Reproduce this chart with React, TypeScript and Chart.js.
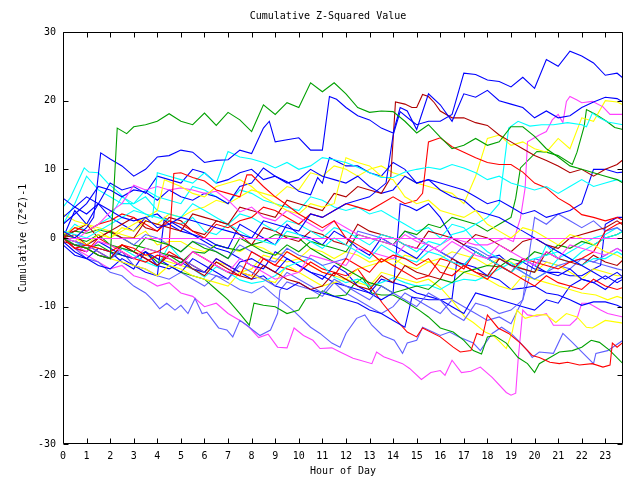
import React, { useEffect, useRef } from "react";
import { Chart, registerables } from "chart.js";

Chart.register(...registerables);

type Pt = [number, number];

const TITLE = "Cumulative Z-Squared Value";
const X_TITLE = "Hour of Day";
const Y_TITLE = "Cumulative (Z*Z)-1";
const HOUR_TICKS = [0, 1, 2, 3, 4, 5, 6, 7, 8, 9, 10, 11, 12, 13, 14, 15, 16, 17, 18, 19, 20, 21, 22, 23];
const Y_TICKS = [-30, -20, -10, 0, 10, 20, 30];
const ZERO_LINE: Pt[] = [[0, 0], [23.75, 0]];

const BLUE = "#0000ff";
const PERI = "#6060ff";
const RED = "#ff0000";
const DRED = "#b00000";
const GREEN = "#00a000";
const CYAN = "#00ffff";
const MAG = "#ff40ff";
const YEL = "#ffff00";

const G1: Pt[] = [[0,0],[0.5,-1],[1,-1.5],[1.5,-2.5],[2,-3],[2.3,16],[2.7,15.2],[3,16.2],[3.5,16.5],[4,17],[4.5,18.1],[5,17],[5.5,16.5],[6,18.2],[6.5,16.4],[7,18.3],[7.5,17.2],[8,15.5],[8.5,19.4],[9,18],[9.5,19.7],[10,19],[10.5,22.6],[11,21.3],[11.5,22.6],[12,21],[12.5,19],[13,18.3],[13.5,18.5],[14,18.4],[14.5,17],[15,15.3],[15.5,16.5],[16,14.7],[16.5,13],[17,13.5],[17.5,14.5],[18,13.5],[18.5,14],[19,16.2],[19.5,16.2],[20,14.8],[20.5,13],[21,11.8],[21.5,10.5],[22,10],[22.5,9.5],[23,9],[23.5,8.5],[23.75,8]];
const BA: Pt[] = [[0,1],[0.5,0],[1,1.5],[1.3,3],[1.6,12.4],[2,11.5],[2.5,10.5],[3,9],[3.5,10],[4,11.8],[4.5,12],[5,12.8],[5.5,12.5],[6,11],[6.5,11.3],[7,11.4],[7.5,12.8],[8,12.3],[8.5,16],[8.75,17],[9,14],[9.5,14.3],[10,14.6],[10.5,12.8],[11,12.8],[11.3,20.6],[11.6,20.2],[12,19],[12.5,17.8],[13,17.2],[13.5,16],[14,15.3],[14.3,19],[14.6,18.5],[15,15.8],[15.5,21],[16,19.4],[16.5,17],[17,21],[17.5,20.5],[18,21.5],[18.5,20],[19,19.5],[19.5,19],[20,17.5],[20.5,18.5],[21,17.5],[21.5,17.8],[22,19],[22.5,19.8],[23,20.5],[23.5,20.3],[23.75,19.8]];
const BB: Pt[] = [[0,5.8],[0.5,4.5],[1,3.5],[1.5,5],[2,4],[2.5,3],[3,2.5],[3.5,3],[4,1.5],[4.5,2],[5,3],[5.5,2.5],[6,2],[6.5,1.5],[7,1],[7.5,0.5],[8,0],[8.5,2.5],[9,2],[9.5,1.5],[10,1],[10.5,3.5],[11,3],[11.5,4],[12,5],[12.5,5.5],[13,6],[13.7,8],[14,15],[14.3,18.4],[14.8,17],[15,16.5],[15.5,17],[16,17],[16.5,18],[17,24],[17.5,23.8],[18,23],[18.5,22.8],[19,22],[19.5,23.4],[20,21.8],[20.5,26],[21,25],[21.5,27.2],[22,26.5],[22.5,25.5],[23,23.7],[23.5,24],[23.75,23.3]];
const BC: Pt[] = [[0,2],[0.5,3.5],[1,5],[1.5,7.5],[2,7],[2.5,6],[3,7],[3.5,6.7],[4,5.5],[4.5,7],[5,6],[5.5,5.5],[6,6.5],[6.5,6],[7,5],[7.5,7.5],[8,8],[8.5,10.2],[9,9],[9.5,8.2],[10,6.8],[10.5,6.3],[10.8,8.8],[11,8],[11.3,11.7],[12,10.5],[12.5,10.5],[13,9.5],[13.5,9],[14,11],[14.5,10],[15,8],[15.5,8.5],[16,7],[16.5,6],[17,5.5],[17.5,4],[18,3.5],[18.5,3],[19,2],[19.5,1],[20,0],[20.5,-1],[21,-2],[21.5,-3],[22,-4],[22.5,-5],[23,-6],[23.5,-5],[23.75,-5.7]];
const BD: Pt[] = [[0,3],[0.5,4.5],[1,6],[1.5,5],[2,8],[2.5,7],[3,7.5],[3.5,6.5],[4,9],[4.5,8.5],[5,8],[5.5,10],[6,9.5],[6.5,8],[7,8.5],[7.5,9.5],[8,10],[8.5,8.5],[9,9],[9.5,8],[10,8.5],[10.5,10],[11,9],[11.5,8.5],[12,8],[12.5,9],[13,7.5],[13.5,6.5],[14,7],[14.5,9],[15,8],[15.5,8.5],[16,8],[16.5,7.5],[17,7],[17.5,6],[18,5],[18.5,5.5],[19,4.5],[19.5,3.5],[20,4],[20.5,3],[21,3.5],[21.5,4],[22,5],[22.5,10],[23,10],[23.5,9.5],[23.75,9.6]];
const BE: Pt[] = [[0,0],[0.5,-1.5],[1,-2],[1.5,-0.5],[2,-1.5],[2.5,-2.5],[3,-3],[3.5,-2],[4,-4],[4.5,-4.5],[5,-3.5],[5.5,-4.5],[6,-5],[6.5,-3],[7,-4],[7.5,-5],[8,-6],[8.5,-5.5],[9,-7],[9.5,-7.5],[10,-6.5],[10.5,-7.5],[11,-8],[11.5,-8.5],[12,-9],[12.5,-9.5],[13,-10.5],[13.5,-11],[14,-12],[14.5,-13],[14.8,-8.6],[15.5,-9],[16,-9],[16.5,-8.8],[16.7,-3.5],[17.5,-4.3],[18,-5.5],[18.5,-6.1],[19,-7.5],[19.5,-7.3],[20,-7],[20.5,-8],[21,-8.3],[21.5,-9],[22,-9.8],[22.5,-9.3],[23,-9.3],[23.5,-9.8],[23.75,-10.2]];
const BF: Pt[] = [[0,-1],[0.5,-2.5],[1,-3],[1.5,-1.5],[2,-2],[2.5,-3.5],[3,-4.5],[3.5,-2],[4,-3],[4.5,-4],[5,-5],[5.5,-3],[6,-4],[6.5,-5],[7,-6],[7.5,-3.5],[8,-3],[8.5,-4],[9,-5],[9.5,-3],[10,-4],[10.5,-5],[11,-6],[11.5,-4],[12,-5],[12.5,-7],[13,-8],[13.5,-9],[14,-8],[14.3,5],[14.7,4.5],[15,4],[15.5,5],[16,3],[16.5,0],[17,-1],[17.5,-2],[18,-3],[18.5,-2.5],[19,-4],[19.5,-3.5],[20,-4.5],[20.5,-5],[21,-5],[21.5,-5.5],[22,-5.5],[22.5,-4.5],[22.8,-4],[23,2],[23.5,3],[23.75,3]];
const BG: Pt[] = [[0,0],[0.5,4],[1,2],[1.5,5],[2,3],[2.5,2],[3,1],[3.5,3],[4,3.5],[4.5,2],[5,1],[5.5,0.5],[6,0],[6.5,-1],[7,-1.5],[7.5,2],[8,1],[8.5,0],[9,-1],[9.5,2],[10,0.5],[10.5,0],[11,-1],[11.5,1],[12,0],[12.5,-1.5],[13,-2.5],[13.5,0],[14,-1],[14.5,-2],[15,-3],[15.5,-1],[16,-2],[16.5,-3],[17,-4],[17.5,-2],[18,-3],[18.5,-4],[19,-5],[19.5,-3],[20,-4],[20.5,-5],[21,-5.5],[21.5,-4.5],[22,-6],[22.5,-6.5],[23,-5.5],[23.5,-6.5],[23.75,-6]];
const BH: Pt[] = [[0,-0.5],[0.5,-2],[1,-3],[1.5,-4],[2,-4.5],[2.5,-3],[3,-4],[3.5,-5],[4,-5.5],[4.3,3],[4.5,2.5],[5,1.5],[5.5,0.5],[6,-0.5],[6.5,-1.5],[7,-2],[7.5,-3],[8,-4],[8.5,-4.5],[9,-2],[9.5,-3],[10,-4],[10.5,-5],[11,-5.5],[11.5,-6.5],[12,-7],[12.5,-7.5],[13,-8],[13.5,-6],[14,-6.5],[14.5,-7],[15,-8],[15.5,-8.5],[16,-9],[16.5,-10],[17,-11],[17.5,-8],[18,-8.5],[18.5,-9],[19,-9.5],[19.5,-10],[20,-10.5],[20.5,-9],[21,-9.5],[21.5,-7],[22,-6],[22.5,-6.5],[23,-7.5],[23.5,-6],[23.75,-5.7]];
const P1: Pt[] = [[0,0],[0.5,-1.5],[1,-3],[1.5,-3.5],[2,-5],[2.5,-5.5],[3,-7],[3.5,-8],[3.8,-9],[4.1,-10.3],[4.4,-9.5],[4.75,-10.5],[5,-9.8],[5.3,-11],[5.6,-8.8],[5.9,-11],[6.1,-10.8],[6.6,-13.1],[6.95,-13.4],[7.2,-14.4],[7.5,-12],[7.8,-12.7],[8.05,-13.4],[8.35,-14.2],[8.8,-13.4],[9.1,-11],[9.2,-7.6],[9.5,-6.4],[10,-7],[10.5,-7.5],[11,-8.5],[11.5,-6.5],[12,-8],[12.5,-9],[13,-10],[13.5,-11],[14,-10],[14.5,-8],[15,-9],[15.5,-10],[16,-11],[16.5,-9],[17,-10],[17.5,-11],[18,-12],[18.5,-11.5],[19,-12.5],[19.5,-9],[20,-3],[20.5,-3.5],[21,-4],[21.5,-4.5],[22,-3],[22.5,-3.5],[23,-4],[23.5,-4.5],[23.75,-4.7]];
const P2: Pt[] = [[0,0],[0.5,-1],[1,-1.5],[1.5,-2.5],[2,-3],[2.5,-2],[3,-4],[3.5,-4.5],[4,-5.5],[4.5,-6],[5,-5],[5.5,-6],[6,-7],[6.5,-5.5],[7,-6.5],[7.5,-7.5],[8,-8],[8.5,-7],[9,-8.5],[9.75,-10.5],[10.5,-13],[10.9,-13.9],[11.4,-15.3],[11.75,-15.9],[12,-13.9],[12.45,-11.7],[12.8,-11.2],[13.1,-12.7],[13.55,-14.2],[14.05,-14.9],[14.4,-16.8],[14.6,-15.3],[15,-14.9],[15.25,-13],[16,-14.2],[16.4,-13.7],[16.8,-14.4],[17.4,-15.3],[17.7,-16.4],[18.2,-13.9],[18.6,-13],[19,-13.9],[19.3,-14.9],[19.7,-16.4],[19.9,-17.4],[20.2,-16.6],[20.8,-16.8],[21.2,-13.9],[21.6,-15.2],[22,-16.6],[22.5,-18.3],[22.6,-16.8],[23.1,-16.4],[23.75,-14.9]];
const P3: Pt[] = [[0,0],[0.5,-1],[1,-1],[1.5,0],[2,1],[2.5,0],[3,-1],[3.5,0.5],[4,0],[4.5,-1],[5,-2],[5.5,-0.5],[6,-1],[6.5,-2],[7,-3],[7.5,-1],[8,-2],[8.5,-3],[9,-3.5],[9.5,-1.5],[10,-2.5],[10.5,-3],[11,-4],[11.5,-3.5],[12,-3],[12.5,1],[13,0.5],[13.5,0],[14,-1],[14.5,1],[15,0],[15.5,-1],[16,-2],[16.5,-3],[17,-1],[17.5,-1.5],[18,-2.5],[18.5,-3],[19,-4],[19.5,-5],[20,-6],[20.5,-5],[21,-4],[21.5,-3.5],[22,-3],[22.5,-3.5],[23,-2.5],[23.5,-1.5],[23.75,-2]];
const P4: Pt[] = [[0,0],[0.5,-0.5],[1,-1],[1.5,-2],[2,-3],[2.5,-1.5],[3,-2],[3.5,-3],[4,-4],[4.5,-2.5],[5,-3],[5.5,-4],[6,-5],[6.5,-5.5],[7,-6],[7.5,-4],[8,-5],[8.5,-6],[9,-7],[9.5,-5],[10,-6],[10.5,-7],[11,-8],[11.5,-6],[12,-7],[12.5,-8],[13,-9],[13.5,-7],[14,-8],[14.5,-9],[15,-10],[15.5,-8],[16,-9],[16.5,-11],[17,-12],[17.5,-9.5],[18,-10],[18.5,-11],[19,-10.5],[19.5,-9],[19.7,-4],[20,3],[20.5,2],[21,3.5],[21.5,2.5],[22,1.5],[22.5,2.5],[23,1],[23.5,1.5],[23.75,0.9]];
const M1: Pt[] = [[0,0],[0.5,-1.5],[1,-2.5],[1.5,-3.5],[2,-4.5],[2.5,-4],[3,-5.5],[3.5,-6],[4,-7],[4.5,-6.5],[5,-8],[5.5,-8.5],[6,-10],[6.5,-9.5],[7,-11],[7.5,-12],[7.9,-13],[8.3,-14.5],[8.7,-14],[9.1,-15.9],[9.5,-16],[9.8,-13.1],[10.2,-14.2],[10.6,-14.9],[10.9,-16.1],[11.4,-16],[11.75,-16.6],[12.3,-17.5],[12.6,-17.8],[13.1,-18.3],[13.3,-16.6],[13.6,-17.3],[14.4,-18.3],[14.7,-19],[15.2,-20.6],[15.6,-19.6],[16,-19.3],[16.2,-20],[16.5,-17.8],[16.9,-19.6],[17.3,-19.4],[17.7,-18.8],[18.2,-20.3],[18.8,-22.5],[19,-22.9],[19.2,-22.6],[19.3,-17.8],[19.5,-10.5],[19.7,-11.2],[20.1,-11.4],[20.5,-11],[20.8,-12.7],[21.5,-12.7],[21.8,-11.7],[22,-9.5],[22.3,-9.5],[22.8,-10.5],[23.1,-11],[23.75,-11.5]];
const M2: Pt[] = [[0,0],[0.5,-1],[1,-2],[1.5,-0.5],[2,-1],[2.5,-2],[3,-3],[3.5,-1.5],[4,-2],[4.5,-3],[5,-4],[5.5,-2],[6,-3],[6.5,-4],[7,-5],[7.5,-3],[8,-4],[8.5,-5],[9,-6],[9.5,-5.5],[10,-5],[10.5,-2.5],[11,-3],[11.5,-3.5],[12,-4],[12.5,-1.5],[13,-2],[13.5,-2.5],[14,-3],[14.5,-1],[15,-1.5],[15.5,-2],[16,-1],[16.5,0],[17,-0.5],[17.5,-1],[18,-1],[18.75,0],[19.1,-0.5],[19.4,2.9],[19.6,7.3],[19.7,14],[20.2,15],[20.5,15.5],[20.75,17.2],[21,18],[21.2,16.8],[21.35,19.9],[21.5,20.6],[21.8,20.1],[22,19.7],[22.45,19.9],[22.9,19.1],[23.2,18],[23.75,18]];
const M3: Pt[] = [[0,0],[0.5,-0.5],[1,1],[1.5,2],[2,3.8],[2.5,5],[3,7.7],[3.5,7],[4,7.5],[4.5,7],[5,7.3],[5.5,7],[6,6.5],[6.5,6.8],[7,5.5],[7.5,3.8],[8,4.5],[8.5,3],[9,2.5],[9.5,4],[10,3],[10.5,2],[11,1],[11.5,2.5],[12,1.5],[12.5,0.5],[13,0],[13.5,-0.5],[14,-1],[14.5,0.5],[15,-0.5],[15.5,-1],[16,-2],[16.5,-0.5],[17,-1.5],[17.5,-2.5],[18,-3],[18.5,-1],[19,-2],[19.5,-3],[20,-4],[20.5,-2],[21,-3],[21.5,-1],[22,-1.5],[22.5,-2],[23,-2.5],[23.5,-1.5],[23.75,-2]];
const R1: Pt[] = [[0,0],[0.5,-0.5],[1,-1],[1.5,-2],[2,-3],[2.5,-1],[3,-2],[3.5,-3],[4,-4],[4.5,-2],[5,-3],[5.5,-4],[6,-5],[6.5,-3],[7,-4],[7.5,-5],[8,-5.5],[8.5,-3],[9,-4],[9.5,-4.5],[10,-5],[10.5,-3.5],[11,-4.5],[11.5,-5],[12,-5.5],[12.5,-4.5],[12.9,-6.4],[13.55,-9.5],[14.15,-12],[14.6,-13.7],[15,-14.4],[15.25,-13.1],[16,-14.4],[16.55,-15.9],[16.85,-16.6],[17.3,-16.4],[17.55,-13.9],[17.8,-14.2],[18,-11.2],[18.45,-13.1],[18.9,-13.9],[19.4,-15.3],[19.9,-17.1],[20.2,-17.4],[20.65,-18.1],[21.05,-18.3],[21.4,-18.1],[21.9,-18.5],[22.45,-18.3],[22.9,-18.8],[23.2,-18.5],[23.3,-15.3],[23.5,-15.9],[23.75,-15.2]];
const R2: Pt[] = [[0,0],[0.5,-1.5],[1,-1],[1.5,-1.5],[2,-2],[2.5,-1],[3,-1.5],[3.5,-2.5],[4,-2],[4.5,-1],[4.7,9.4],[5,9.5],[5.5,8.8],[6,8.3],[6.5,7],[7,6.5],[7.5,6],[7.8,9.2],[8,9.2],[8.5,7.5],[9,6],[9.5,4.8],[10,3.5],[10.5,2.5],[11,1.5],[11.5,2.5],[12,0],[12.5,-1],[13,-2],[13.5,-3.5],[14,-2.5],[14.5,-3],[15,-4],[15.5,-3],[16,-5],[16.5,-5.5],[17,-4],[17.5,-5],[18,-6],[18.5,-4],[19,-5],[19.5,-6],[20,-7],[20.5,-5.5],[21,-6.5],[21.5,-7],[22,-7.5],[22.5,-6],[23,-7],[23.5,-7.5],[23.75,-7.2]];
const R3: Pt[] = [[0,0],[0.5,-1.5],[1,-2],[1.5,0],[2,-1],[2.5,-2],[3,-3],[3.5,-3.5],[4,-2.5],[4.5,-3],[5,-4],[5.5,-2],[6,-3],[6.5,-4],[7,-5],[7.5,-5.5],[8,-2],[8.5,-3],[9,-4],[9.5,-2],[10,-3],[10.5,-4],[11,-5],[11.5,-5.5],[12,-3],[12.5,-4],[13,-5],[13.5,-3],[14,-4],[14.5,-5],[15,-6],[15.5,-5.5],[16,-3],[16.5,-3.5],[17,-4.5],[17.5,-2],[18,-3],[18.5,-4],[19,-5],[19.5,-3],[20,-3.5],[20.5,-4],[21,-4.5],[21.5,-3.5],[22,-3],[22.5,-2],[23,1],[23.5,2],[23.75,2.3]];
const R4: Pt[] = [[0,0.5],[0.5,1],[1,2],[1.5,0],[2,1],[2.5,2],[3,3],[3.5,1.5],[4,1],[4.5,3],[5,2.5],[5.5,1],[6,0.5],[6.5,2.5],[7,2],[7.5,0.5],[8,-1],[8.5,1.5],[9,1],[9.5,0],[10,-0.5],[10.5,1],[11,0.5],[11.5,-0.5],[12,-1],[12.5,2],[13,1],[13.5,0.5],[14,0],[14.5,-1],[15,-1.5],[15.5,1],[16,0.5],[16.5,0],[17,-1],[17.5,0.5],[18,0],[18.5,-1],[19,-2],[19.5,-0.5],[20,0],[20.5,-1],[21,-1.5],[21.5,0],[22,0.5],[22.5,1],[23,1.5],[23.5,2.5],[23.75,1.9]];
const DR1: Pt[] = [[0,0],[0.5,0.5],[1,-1],[1.5,0],[2,1],[2.5,0],[3,0],[3.5,2.5],[4,2],[4.5,1.5],[5,1],[5.5,3.5],[6,3],[6.5,2.5],[7,2],[7.5,4.5],[8,4],[8.5,3.5],[9,3],[9.5,5.5],[10,5],[10.5,4.5],[11,4],[11.5,6.5],[12,6],[12.5,7.5],[13,7],[13.5,6.5],[13.9,8.8],[14.1,19.8],[14.5,19.5],[14.8,19],[15,19],[15.25,20.9],[15.5,20.6],[15.75,19.7],[16,18.5],[16.5,17.5],[17,17.5],[17.5,16.8],[18,16.4],[18.5,15],[19,14],[19.5,13],[20,12],[20.5,11.3],[21,10.5],[21.5,9.5],[22,10],[22.5,9],[23,10],[23.5,10.7],[23.75,11.4]];
const DR2: Pt[] = [[0,0],[0.5,1.5],[1,1],[1.5,2],[2,2.5],[2.5,3.5],[3,3],[3.5,2],[4,1],[4.5,2.5],[5,2],[5.5,1],[6,0],[6.5,2],[7,1.5],[7.5,2.5],[8,3],[8.5,4.5],[9,4],[9.5,3],[10,2],[10.5,3.5],[11,3],[11.5,4],[12,5],[12.5,4.5],[13,4],[13.5,5],[14,6],[14.5,5],[15,5.5],[15.25,6.5],[15.5,14],[16,14.6],[16.5,13.3],[17,12.5],[17.5,11.7],[18,11],[18.5,10.7],[19,10.7],[19.5,9.6],[20,8],[20.5,7.3],[21,5.8],[21.5,4.8],[22,3.4],[22.5,3],[23,2.5],[23.5,3],[23.75,2.6]];
const DR3: Pt[] = [[0,-0.5],[0.5,-1],[1,-1.5],[1.5,-2.5],[2,-3],[2.5,-1],[3,-2],[3.5,-3],[4,-4],[4.5,-2.5],[5,-3],[5.5,-4.5],[6,-5.5],[6.5,-3.5],[7,-4.5],[7.5,-5.5],[8,-6],[8.5,-4],[9,-5],[9.5,-6],[10,-6.5],[10.5,-7.5],[11,-7],[11.5,-5],[12,-6],[12.5,-7],[13,-7.5],[13.5,-5.5],[14,-6.5],[14.5,-4],[15,-5],[15.5,-5.5],[16,-6],[16.5,-3],[17,-4],[17.5,-5],[18,-5.5],[18.5,-3],[19,-4],[19.5,-4.5],[20,-5],[20.5,-2],[21,-3],[21.5,-3.5],[22,-4],[22.5,-2.5],[23,-3.5],[23.5,-4],[23.75,-3.2]];
const G2: Pt[] = [[0,0],[0.5,-1],[1,-1.5],[1.5,-1],[2,-2],[2.5,-2.5],[3,-3],[3.5,-2],[4,-3.5],[4.5,-4],[5,-5],[5.5,-5.5],[6,-6],[6.5,-7.5],[7,-9],[7.5,-11],[7.9,-12.7],[8.1,-9.5],[8.5,-9.8],[9,-10],[9.5,-11],[10,-10.5],[10.3,-8.8],[10.8,-8.7],[11,-7.7],[11.5,-8.5],[12,-8.3],[12.3,-6.9],[12.7,-5.8],[13.1,-8],[13.5,-8.3],[14,-8.3],[14.5,-9.2],[15.1,-10.5],[15.5,-11.5],[16,-13.1],[16.55,-13.7],[17,-14.9],[17.4,-16.4],[17.75,-16.9],[18,-14.4],[18.3,-14.2],[18.8,-15.3],[19.3,-17.4],[19.7,-18.3],[20,-19.6],[20.2,-18.3],[20.6,-17.5],[21.05,-16.6],[21.6,-16.4],[22,-15.9],[22.4,-14.9],[22.75,-15.2],[23.2,-16.4],[23.75,-18.3]];
const G3: Pt[] = [[0,0.5],[0.5,0],[1,-0.5],[1.5,0.5],[2,-1],[2.5,-1.5],[3,-2],[3.5,0],[4,-0.5],[4.5,-1],[5,-2],[5.5,-0.5],[6,-1.5],[6.5,-2],[7,-3],[7.5,0],[8,-1],[8.5,-2],[9,-2.5],[9.5,-1],[10,-2],[10.5,-0.5],[11,-1],[11.5,-1.5],[12,-2],[12.5,0.5],[13,0],[13.5,-0.5],[14,-1],[14.5,1],[15,0.5],[15.5,2],[16,1.5],[16.5,3],[17,2.5],[17.5,2],[18,1],[18.5,2],[19,3],[19.2,5.8],[19.4,10.2],[20.1,12.6],[20.5,12.5],[21,12],[21.6,10.7],[21.8,12.5],[22.1,16.2],[22.2,18.7],[22.6,18],[23.05,17],[23.4,16.1],[23.75,15.8]];
const G4: Pt[] = [[0,0],[0.5,1],[1,0.7],[1.5,1.2],[2,0.8],[2.5,0],[3,-1],[3.5,-1.5],[4,-2],[4.5,-2.5],[5,-3.6],[5.5,-2],[6,-2.2],[6.5,-1],[7,-1.5],[7.5,-1.8],[8,-1],[8.5,-0.5],[9,0.5],[9.5,0.3],[10,0],[10.5,-1.5],[11,-2.5],[11.5,-3.5],[12,-4.5],[12.5,-5.5],[13,-6.5],[13.5,-7],[14,-8],[14.5,-7.5],[15,-7],[15.5,-7.5],[16,-6],[16.5,-6.5],[17,-5],[17.5,-4.5],[18,-4],[18.5,-4.2],[19,-3],[19.5,-3.5],[20,-2],[20.5,-2.5],[21,-1],[21.5,-1.5],[22,-0.5],[22.5,-1],[23,0],[23.5,0.5],[23.75,1]];
const C1: Pt[] = [[0,2],[0.5,5],[1,9],[1.5,7],[2,6],[2.5,5],[3,5],[3.5,6],[4,4],[4.5,3.5],[5,3],[5.5,5],[6,4],[6.5,3],[7,2],[7.5,3.5],[8,3],[8.5,2],[9,1],[9.5,2.5],[10,2],[10.5,1],[11,0],[11.5,1.5],[12,1],[12.5,0],[13,-1],[13.5,0.5],[14,0],[14.5,-1],[15,-2],[15.5,-0.5],[16,-1],[16.5,0.5],[17,1],[17.5,2],[18,3],[18.5,5],[18.9,16],[19.3,17],[19.8,16.3],[20.3,16.5],[20.8,16.5],[21.4,16.8],[22,16.5],[22.2,16.2],[22.45,18.2],[22.75,17.5],[23.1,16.9],[23.75,16.5]];
const C2: Pt[] = [[0,4.5],[0.3,5.8],[0.9,10.2],[1.1,9.6],[1.5,9.5],[1.9,8],[2.4,6.5],[2.6,5.8],[3,4.5],[3.5,3.5],[4,3],[4.5,2.5],[5,2],[5.5,3],[6,1],[6.5,0.5],[7,2],[7.5,1],[8,0],[8.5,-0.5],[9,-1],[9.5,1],[10,0.5],[10.5,-0.5],[11,-1.5],[11.5,0],[12,-1],[12.5,-2],[13,-3],[13.5,-1],[14,-2],[14.5,-3],[15,-3.5],[15.5,-2],[16,-2.5],[16.5,-3.5],[17,-4],[17.5,-2],[18,-3],[18.5,-4],[19,-5],[19.5,-3.5],[20,-3],[20.5,-2.5],[21,-2],[21.5,-3],[22,-4],[22.5,-3],[23,-3],[23.5,-2],[23.75,-2.5]];
const C3: Pt[] = [[0,1],[0.5,0.5],[1,0],[1.5,1],[2,2],[2.5,3],[3,4],[3.5,3.5],[3.8,3],[4,9.5],[4.5,9],[5,8.5],[5.5,8],[6,9.5],[6.5,8],[7,12.6],[7.5,11.8],[8,11.5],[8.5,11],[9,10.2],[9.5,11],[10,10],[10.5,10.5],[11,11.7],[11.5,11.4],[12,11],[12.5,10.3],[13,9.5],[13.5,8.8],[14,8.8],[14.5,9.6],[15,10],[15.5,10.3],[16,10],[16.5,10.7],[17,10.2],[17.5,9.5],[18,8.5],[18.5,9],[19,8],[19.5,7.5],[20,7],[20.5,7.5],[21,6.5],[21.5,7.5],[22,8.5],[22.5,7.5],[23,8],[23.5,8.5],[23.75,8.2]];
const C4: Pt[] = [[0,0],[0.5,2],[1,1],[1.5,2],[2,3],[2.5,6],[3,5],[3.5,7],[4,6],[4.5,5.5],[5,5],[5.5,7.5],[6,7],[6.5,6],[7,5],[7.5,7],[8,6.5],[8.5,5.5],[9,5],[9.5,4.5],[10,4],[10.5,6],[11,5.5],[11.5,4.5],[12,4],[12.5,4.5],[13,3.5],[13.5,4],[14,3],[14.5,2],[15,1],[15.5,1.5],[16,0],[16.5,2],[17,1.5],[17.5,-0.5],[18,-2],[18.5,-3],[19,-4],[19.5,-4.5],[20,-5],[20.5,-1],[21,-3],[21.5,-3.5],[22,-2],[22.5,-1],[23,0],[23.5,0.5],[23.75,1]];
const C5: Pt[] = [[0,0],[0.5,-0.5],[1,-1.5],[1.5,-2.5],[2,-3],[2.5,-1.5],[3,-2.5],[3.5,-3.5],[4,-4.2],[4.5,-1],[5,-3],[5.5,-4.5],[6,-5.7],[6.5,-4.2],[7,-5],[7.5,-6.1],[8,-6.6],[8.5,-6.3],[9,-5.5],[9.5,-4.2],[10,-3.5],[10.5,-3],[11,-4],[11.5,-5.7],[12,-6.5],[12.5,-6],[13,-7],[13.5,-6.5],[14,-5.8],[14.5,-6.5],[15,-7],[15.5,-6.8],[16,-7.5],[16.5,-6.5],[17,-6],[17.5,-6.2],[18,-5.5],[18.5,-4.5],[19,-3.6],[19.5,-5],[20,-6],[20.5,-5],[21,-3],[21.5,-2],[22,-1],[22.5,0],[23,0.5],[23.5,1.5],[23.75,0.9]];
const Y1: Pt[] = [[0,0],[0.5,-0.5],[1,-1],[1.5,-1.5],[2,-2],[2.5,-1],[3,-2],[3.5,-2.5],[4,-3],[4.5,-3.5],[5,-4],[5.5,-4.5],[6,-5],[6.5,-3.5],[7,-4],[7.5,-5],[8,-4.5],[8.5,-2.5],[9,-3],[9.5,-3.5],[10,-3],[10.5,-4],[11,-5],[11.5,-5.5],[12,-6],[12.5,-6.5],[13,-7],[13.5,-5],[14,-5.5],[14.5,-6],[15,-6.5],[15.5,-6],[16,-7.2],[16.55,-9.3],[17.05,-11.5],[17.4,-12.3],[17.9,-13.7],[18.25,-14.2],[18.55,-15.2],[18.8,-16.1],[19.05,-13.7],[19.25,-10.5],[19.6,-11.7],[20.1,-11.2],[20.5,-11.2],[20.9,-12.3],[21.35,-11],[21.8,-11.5],[22.2,-13],[22.45,-13.1],[23,-12],[23.75,-12.4]];
const Y2: Pt[] = [[0,3.5],[0.5,2.5],[1,2],[1.5,1.5],[2,1],[2.5,0.5],[3,0],[3.5,1],[4,-1],[4.5,-0.5],[5,-0.5],[5.5,-1.5],[6,-2],[6.5,-1],[7,-1.5],[7.5,-2],[8,-1],[8.5,-1.5],[9,-2.5],[9.5,-2],[10,-3],[10.5,-1.5],[11,-2],[11.5,-3],[12,-2],[12.5,-2.5],[13,-3.5],[13.5,-3],[14,-4],[14.5,-2.5],[15,-3],[15.5,-3.5],[16,-4],[16.5,-4.5],[17,-5],[17.5,-5.5],[18,-6],[18.5,-7],[19,-7.5],[19.5,-5.5],[20,-6],[20.5,-6.5],[21,-7],[21.5,-7.5],[22,-8],[22.6,-8.3],[23.1,-9],[23.5,-8.5],[23.75,-8.8]];
const Y3: Pt[] = [[0,0.5],[0.5,1.5],[1,2],[1.5,1],[2,0],[2.5,1.5],[3,1],[3.5,2.5],[4,2],[4.5,3.5],[5,3],[5.5,4],[6,4.5],[6.5,5.5],[7,5],[7.5,6],[8,7],[8.5,6.5],[9,6],[9.5,7.5],[10,7],[10.5,9.5],[11,9],[11.5,10.5],[12,10],[12.5,9],[13,10],[13.5,10.5],[14,9.5],[14.5,9],[15,8],[15.5,7.5],[16,7],[16.5,6.5],[17,5],[17.5,9],[18,14.5],[18.5,15],[19,13.5],[19.5,14],[20,13],[20.5,12.5],[21,14.5],[21.5,13],[22,17.5],[22.5,17],[23,20],[23.5,19.8],[23.75,19.4]];
const Y4: Pt[] = [[0,1],[0.5,0],[1,-1],[1.5,0.5],[2,0],[2.5,1],[3,2],[3.5,3],[4,4],[4.3,8.5],[5,7.5],[5.5,6.5],[6,6],[6.5,7.5],[7,8],[7.5,8.5],[8,7.5],[8.5,6],[9,5],[9.5,4],[10,3.5],[10.5,5],[11,4.5],[11.5,5],[12,11.7],[12.5,11],[13,10.5],[13.5,9],[14,8.5],[14.5,6],[15,5],[15.5,5.5],[16,4],[16.5,3.5],[17,3],[17.5,4],[18,2],[18.5,1],[19,0],[19.5,1.5],[20,1],[20.5,0],[21,-1],[21.5,0.5],[22,0],[22.5,-1],[23,-2],[23.5,-2.5],[23.75,-3]];
const Y5: Pt[] = [[0,0],[0.5,-1],[1,-1.5],[1.5,-2.5],[2,-3],[2.5,-3.5],[3,-4],[3.5,-4.5],[4,-5.5],[4.5,-4],[5,-4.5],[5.5,-5.5],[6,-6],[6.5,-6.5],[7,-7],[7.5,-5],[8,-5.5],[8.5,-6],[9,-6.5],[9.5,-4],[10,-5],[10.5,-6],[11,-7],[11.5,-6.5],[12,-6],[12.5,-4.5],[13,-4],[13.5,-3.5],[14,-3],[14.5,-4],[15,-4.5],[15.5,-3.5],[16,-3],[16.5,-2],[17,-2.5],[17.5,-3],[18,-4],[18.5,-3],[19,-3.5],[19.5,-4.5],[20,-5],[20.5,-3.5],[21,-4],[21.5,-5],[22,-6],[22.5,-4.5],[23,-5],[23.5,-5.5],[23.75,-5.5]];

const SERIES: { data: Pt[]; color: string }[] = [
  { data: G1, color: GREEN }, { data: BA, color: BLUE }, { data: BB, color: BLUE },
  { data: R2, color: RED }, { data: C3, color: CYAN }, { data: Y4, color: YEL },
  { data: M3, color: MAG }, { data: DR1, color: DRED }, { data: DR2, color: RED },
  { data: BC, color: BLUE }, { data: BD, color: BLUE }, { data: C2, color: CYAN },
  { data: C1, color: CYAN }, { data: M2, color: MAG }, { data: Y3, color: YEL },
  { data: G3, color: GREEN }, { data: R3, color: RED }, { data: R4, color: DRED },
  { data: DR3, color: DRED }, { data: P3, color: PERI }, { data: P4, color: PERI },
  { data: C4, color: CYAN }, { data: BG, color: BLUE }, { data: G4, color: GREEN },
  { data: C5, color: CYAN }, { data: Y5, color: YEL }, { data: Y2, color: YEL },
  { data: BH, color: BLUE }, { data: BF, color: BLUE }, { data: BE, color: BLUE },
  { data: R1, color: RED }, { data: G2, color: GREEN }, { data: Y1, color: YEL },
  { data: P1, color: PERI }, { data: P2, color: PERI }, { data: M1, color: MAG },
];

const FONT = "'DejaVu Sans Mono', monospace";

const framePlugin = {
  id: "frame",
  afterDatasetsDraw(chart: any) {
    const { ctx, chartArea: a, scales } = chart;
    const L = Math.round(a.left) + 0.5, R = Math.round(a.right) - 0.5;
    const T = Math.round(a.top) + 0.5, B = Math.round(a.bottom) - 0.5;
    ctx.save();
    // zero reference line, crisp, drawn over the walks
    ctx.strokeStyle = MAG;
    ctx.lineWidth = 1;
    ctx.beginPath();
    const zy = Math.round(scales.y.getPixelForValue(ZERO_LINE[0][1])) + 0.5;
    ctx.moveTo(scales.x.getPixelForValue(ZERO_LINE[0][0]), zy);
    ctx.lineTo(scales.x.getPixelForValue(ZERO_LINE[1][0]), zy);
    ctx.stroke();

    ctx.strokeStyle = "#000";
    ctx.beginPath();
    ctx.rect(L, T, R - L, B - T);
    for (const t of scales.x.ticks) {
      const px = Math.round(scales.x.getPixelForValue(t.value)) + 0.5;
      ctx.moveTo(px, B); ctx.lineTo(px, B - 5);
      ctx.moveTo(px, T); ctx.lineTo(px, T + 5);
    }
    for (const t of scales.y.ticks) {
      const py = Math.round(scales.y.getPixelForValue(t.value)) + 0.5;
      ctx.moveTo(L, py); ctx.lineTo(L + 5, py);
      ctx.moveTo(R, py); ctx.lineTo(R - 5, py);
    }
    ctx.stroke();
    ctx.fillStyle = "#000";
    ctx.font = `10px ${FONT}`;
    ctx.textAlign = "center";
    ctx.textBaseline = "middle";
    ctx.fillText(TITLE, 328, 16);
    ctx.restore();
  },
};

export default function App() {
  const ref = useRef<HTMLCanvasElement | null>(null);
  useEffect(() => {
    if (!ref.current) return;
    const datasets: any[] = SERIES.map((s) => ({
      data: s.data.map(([x, y]) => ({ x, y })),
      borderColor: s.color,
      borderWidth: 1.1,
      pointRadius: 0,
      tension: 0,
    }));
    const chart = new Chart(ref.current, {
      type: "line",
      data: { datasets },
      options: {
        animation: false,
        responsive: false,
        devicePixelRatio: 1,
        parsing: false as any,
        layout: { padding: { top: 32, right: 17, left: 0, bottom: 0 } },
        plugins: { legend: { display: false }, tooltip: { enabled: false }, title: { display: false } },
        scales: {
          x: {
            type: "linear",
            min: 0,
            max: 23.75,
            grid: { display: false, drawTicks: false },
            border: { display: false },
            afterBuildTicks: (s: any) => { s.ticks = HOUR_TICKS.map((v) => ({ value: v })); },
            afterFit: (s: any) => { s.height = 36; },
            ticks: { color: "#000", font: { family: FONT, size: 10 }, padding: 6, maxRotation: 0, autoSkip: false },
            title: { display: true, text: X_TITLE, color: "#000", font: { family: FONT, size: 10 }, padding: { top: 0, bottom: 3 } },
          },
          y: {
            type: "linear",
            min: -30,
            max: 30,
            grid: { display: false, drawTicks: false },
            border: { display: false },
            afterBuildTicks: (s: any) => { s.ticks = Y_TICKS.map((v) => ({ value: v })); },
            afterFit: (s: any) => { s.width = 63; },
            ticks: { color: "#000", font: { family: FONT, size: 10 }, padding: 7 },
            title: { display: true, text: Y_TITLE, color: "#000", font: { family: FONT, size: 10 }, padding: { top: 17, bottom: 0 } },
          },
        },
      },
      plugins: [framePlugin],
    });
    return () => chart.destroy();
  }, []);
  return (
    <div style={{ position: "fixed", left: 0, top: 0, width: 640, height: 480, background: "#fff" }}>
      <canvas ref={ref} width={640} height={480} />
    </div>
  );
}
